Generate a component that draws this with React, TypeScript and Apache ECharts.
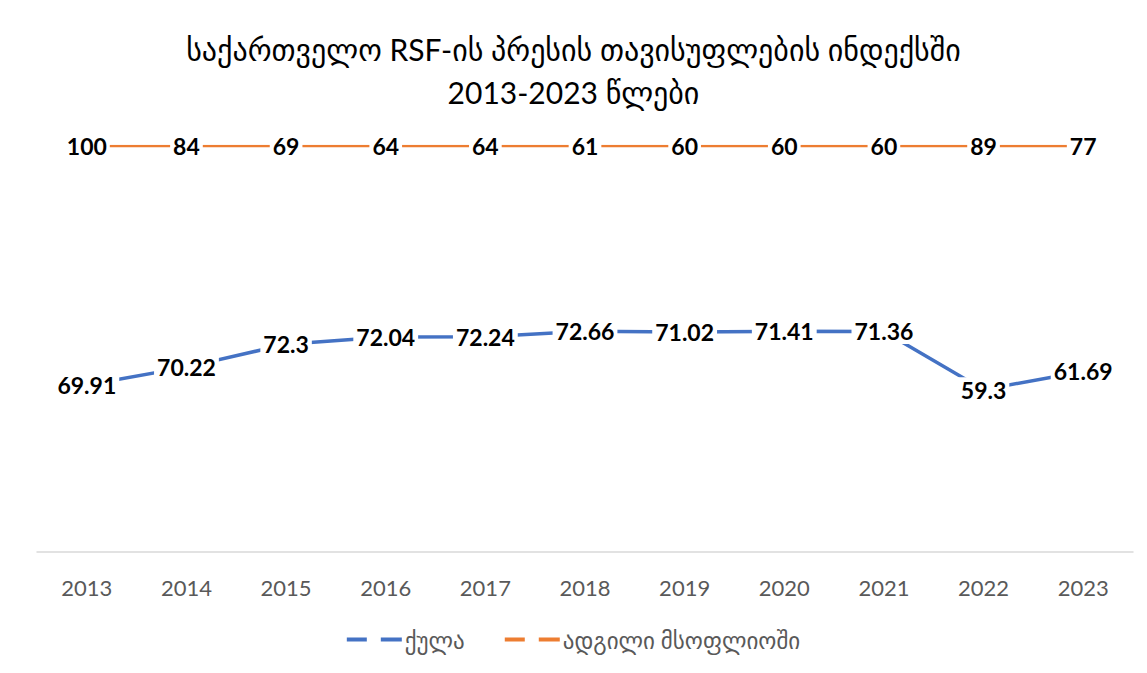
import React, { useEffect, useRef } from "react";
import * as echarts from "echarts";

const years = ["2013", "2014", "2015", "2016", "2017", "2018", "2019", "2020", "2021", "2022", "2023"];
const scores = [69.91, 70.22, 72.3, 72.04, 72.24, 72.66, 71.02, 71.41, 71.36, 59.3, 61.69];
const ranks = [100, 84, 69, 64, 64, 61, 60, 60, 60, 89, 77];
const scoreName = "ქულა";
const rankName = "ადგილი მსოფლიოში";
const titleText = "საქართველო RSF-ის პრესის თავისუფლების ინდექსში\n2013-2023 წლები";

const FONT = "Lato, 'DejaVu Sans', sans-serif";

export default function App() {
  const ref = useRef<HTMLDivElement>(null);
  useEffect(() => {
    document.body.style.margin = "0";
    const chart = echarts.init(ref.current!, undefined, { renderer: "svg" });
    // 100% stacked line, like the original spreadsheet chart
    const totals = scores.map((s, i) => s + ranks[i]);
    const scorePct = scores.map((s, i) => (s / totals[i]) * 100);
    const rankPct = ranks.map((r, i) => (r / totals[i]) * 100);
    const labelBase = {
      show: true,
      position: "inside" as const,
      fontSize: 23,
      fontWeight: "bold" as const,
      color: "#000",
      fontFamily: FONT,
      backgroundColor: "#fff",
      padding: [1, 3],
    };
    chart.setOption({
      animation: false,
      backgroundColor: "#fff",
      title: {
        text: titleText,
        left: "center",
        top: 22,
        textStyle: {
          fontSize: 30,
          fontWeight: "normal",
          color: "#000",
          fontFamily: FONT,
          lineHeight: 43,
        },
      },
      legend: {
        bottom: 17,
        left: "center",
        itemWidth: 55,
        itemHeight: 4,
        itemGap: 40,
        textStyle: { fontSize: 23, color: "#595959", fontFamily: FONT, padding: [0, 0, 0, -2] },
        data: [
          { name: scoreName, icon: "path://M0 0H20V4H0Z M34 0H55V4H34Z" },
          { name: rankName, icon: "path://M0 0H20V4H0Z M34 0H55V4H34Z" },
        ],
      },
      grid: { left: 37, right: 14, top: 146, bottom: 121, containLabel: false },
      xAxis: {
        type: "category",
        data: years,
        boundaryGap: true,
        axisLine: { lineStyle: { color: "#d9d9d9", width: 1.5 } },
        axisTick: { show: false },
        axisLabel: { fontSize: 22, color: "#595959", fontFamily: FONT, margin: 24 },
      },
      yAxis: {
        type: "value",
        min: 0,
        max: 100,
        show: false,
        splitLine: { show: false },
      },
      series: [
        {
          name: scoreName,
          type: "line",
          stack: "total",
          data: scorePct,
          symbol: "circle",
          symbolSize: 1,
          showSymbol: true,
          color: "#4472C4",
          lineStyle: { width: 3.5, color: "#4472C4" },
          label: { ...labelBase, formatter: (p: any) => String(scores[p.dataIndex]) },
          labelLayout: { hideOverlap: false },
          z: 3,
        },
        {
          name: rankName,
          type: "line",
          stack: "total",
          data: rankPct,
          symbol: "circle",
          symbolSize: 1,
          showSymbol: true,
          color: "#ED7D31",
          lineStyle: { width: 2.5, color: "#ED7D31" },
          label: { ...labelBase, formatter: (p: any) => String(ranks[p.dataIndex]) },
          labelLayout: { hideOverlap: false },
          z: 3,
        },
      ],
    });
    return () => chart.dispose();
  }, []);
  return <div ref={ref} style={{ width: 1147, height: 673 }} />;
}
